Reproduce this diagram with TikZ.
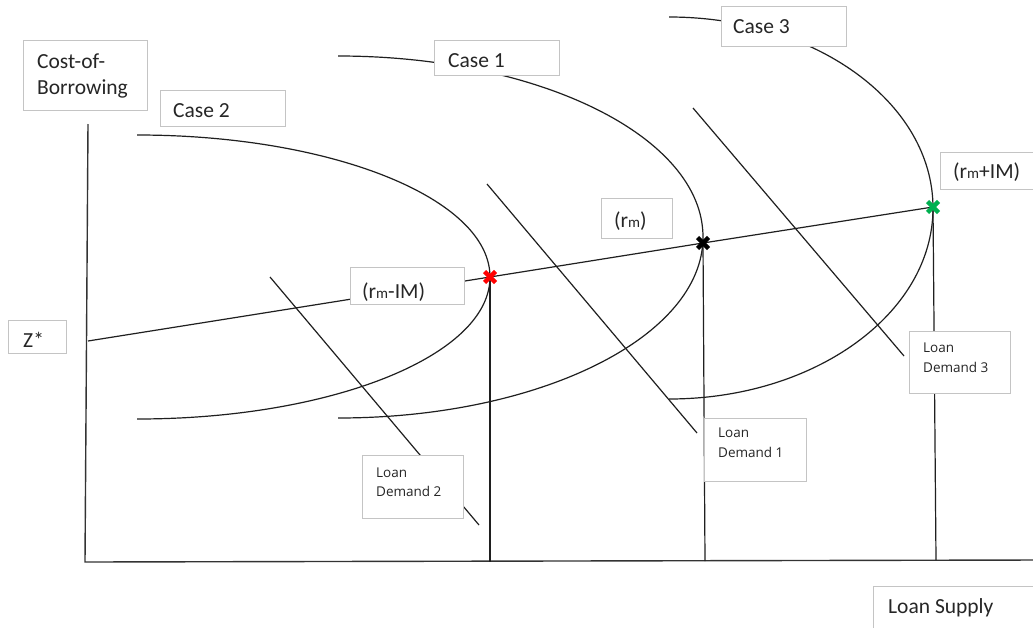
\documentclass[tikz,border=0pt]{standalone}
\usepackage{fontspec}
\setmainfont{Carlito}
\newfontfamily\ldfont{Open Sans}
\definecolor{boxgray}{HTML}{C4C4C4}
\definecolor{xgreen}{HTML}{00B050}
\definecolor{txtc}{HTML}{262626}
\begin{document}
\begin{tikzpicture}[x=1pt,y=-1pt,
  curve/.style={line width=1.2pt, color=black!88},
  axisline/.style={line width=1.4pt, color=black!80},
  tbox/.style={draw=boxgray, line width=0.9pt, fill=white, anchor=north west, inner sep=0pt},
  lbl/.style={anchor=base west, inner sep=0pt, font=\fontsize{21.5}{25}\selectfont, text=txtc},
  ldl/.style={anchor=base west, inner sep=0pt, font=\ldfont\fontsize{13.5}{16}\selectfont, text=txtc},
  xmark/.style={line width=4.5pt}]
\clip (0,0) rectangle (1033,627);
\fill[white] (0,0) rectangle (1033,627);
% key points
\coordinate (O) at (85,562);
\coordinate (Ytop) at (88,124);
\coordinate (Xend) at (1040,560);
\coordinate (Z) at (88,341);
\coordinate (X2) at (490,277);
\coordinate (X1) at (703,243);
\coordinate (X3) at (933,207);
\coordinate (B2) at (490,562);
\coordinate (B1) at (705,561);
\coordinate (B3) at (936,560);
% axes
\draw[axisline] (Ytop) -- (O) -- (Xend);
% case curves (half ellipses)
\draw[curve] (137,135) arc[start angle=-90, end angle=90, x radius=353, y radius=142];
\draw[curve] (338,56) arc[start angle=-90, end angle=90, x radius=365, y radius=181];
\draw[curve] (669,17) arc[start angle=-90, end angle=90, x radius=264, y radius=191];
% loan demand lines
\coordinate (D2a) at (270,277); \coordinate (D2b) at (479,525);
\coordinate (D1a) at (487,184); \coordinate (D1b) at (697,433);
\coordinate (D3a) at (693,108); \coordinate (D3b) at (904,356);
\draw[curve] (D2a) -- (D2b);
\draw[curve] (D1a) -- (D1b);
\draw[curve] (D3a) -- (D3b);
% rate line and verticals
\draw[curve] (Z) -- (X2) -- (X1) -- (X3);
\draw[curve] (X2) -- (B2);
\draw[curve] (X1) -- (B1);
\draw[curve] (X3) -- (B3);
% boxes
\node[tbox, minimum width=124, minimum height=70] (cob) at (23,40) {};
\node[tbox, minimum width=125, minimum height=36] (c2) at (160,90) {};
\node[tbox, minimum width=125, minimum height=35] (c1) at (434,40) {};
\node[tbox, minimum width=125, minimum height=40] (c3) at (721,6) {};
\node[tbox, minimum width=71, minimum height=40] (rm) at (601,198) {};
\node[tbox, minimum width=114, minimum height=37] (rmm) at (350,267) {};
\node[tbox, minimum width=100, minimum height=37] (rmp) at (940,152) {};
\node[tbox, minimum width=101, minimum height=63] (ld2) at (362,455) {};
\node[tbox, minimum width=102, minimum height=63] (ld1) at (704,418) {};
\node[tbox, minimum width=101, minimum height=62] (ld3) at (909,331) {};
\node[tbox, minimum width=58, minimum height=33] (zs) at (8,320) {};
\node[tbox, minimum width=170, minimum height=50] (ls) at (873,586) {};
% texts
\node[lbl] (t1) at (37,68) {Cost-of-};
\node[lbl] (t2) at (37,94) {Borrowing};
\node[lbl] (t3) at (173,117) {Case 2};
\node[lbl] (t4) at (448,67) {Case 1};
\node[lbl] (t5) at (733,33) {Case 3};
\node[lbl] (t6) at (614,227) {(r{\fontsize{15}{15}\selectfont m})};
\node[lbl] (t7) at (362,298) {(r{\fontsize{15}{15}\selectfont m}-IM)};
\node[lbl] (t8) at (953,178) {(r{\fontsize{15}{15}\selectfont m}+IM)};
\node[lbl] (t9) at (23,347) {Z*};
\node[lbl] (t10) at (888,613) {Loan Supply};
\node[ldl] (t11) at (376,477) {Loan};
\node[ldl] (t12) at (376,496) {Demand 2};
\node[ldl] (t13) at (718,437) {Loan};
\node[ldl] (t14) at (718,457) {Demand 1};
\node[ldl] (t15) at (923,352) {Loan};
\node[ldl] (t16) at (923,372) {Demand 3};
% crosses
\draw[xmark, red] ([shift={(-5.5,-5.5)}]X2) -- ([shift={(5.5,5.5)}]X2) ([shift={(-5.5,5.5)}]X2) -- ([shift={(5.5,-5.5)}]X2);
\draw[xmark, black] ([shift={(-5.5,-5.5)}]X1) -- ([shift={(5.5,5.5)}]X1) ([shift={(-5.5,5.5)}]X1) -- ([shift={(5.5,-5.5)}]X1);
\draw[xmark, xgreen] ([shift={(-5.5,-5.5)}]X3) -- ([shift={(5.5,5.5)}]X3) ([shift={(-5.5,5.5)}]X3) -- ([shift={(5.5,-5.5)}]X3);
\end{tikzpicture}
\end{document}
